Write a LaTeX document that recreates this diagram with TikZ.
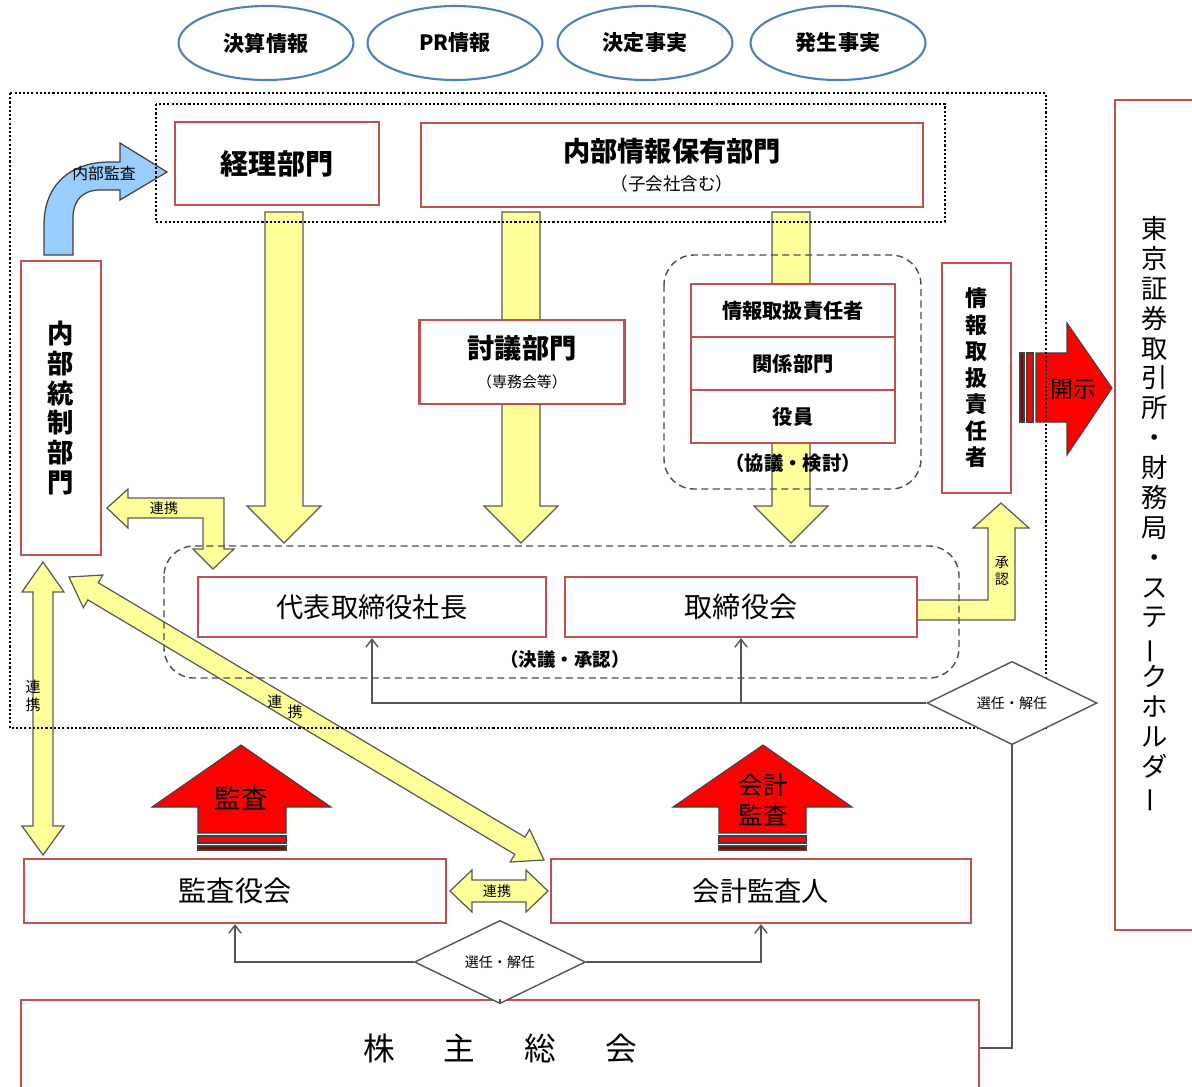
\documentclass[tikz,border=0pt]{standalone}
\usepackage{fontspec}
\setmainfont{Noto Sans CJK JP}
\usepackage{graphicx}
\usetikzlibrary{shapes.geometric,arrows.meta}
\definecolor{boxred}{RGB}{192,80,77}
\definecolor{ellblue}{RGB}{79,129,189}
\definecolor{fatfill}{RGB}{255,255,153}
\definecolor{fatline}{RGB}{90,90,90}
\definecolor{bluefill}{RGB}{153,204,255}
\definecolor{linegray}{RGB}{85,85,85}
\tikzset{
  infoell/.style={ellipse, draw=ellblue, line width=1.2pt, minimum width=3.5cm,
    minimum height=1.48cm, inner sep=0pt, font=\fontsize{12}{14}\selectfont\bfseries},
  unitbox/.style={draw=boxred, line width=1.3pt, fill=white, inner sep=0pt, align=center},
  choicediamond/.style={diamond, draw=linegray, line width=0.8pt, fill=white, inner sep=0pt,
    font=\fontsize{8}{9}\selectfont},
  fatyellow/.style={fill=fatfill, draw=fatline, line width=0.7pt},
  fatred/.style={fill=red, draw=black!75, line width=0.6pt},
  conn/.style={draw=linegray, line width=0.8pt, -{Straight Barb[length=4.5pt,width=7pt]}},
  plainline/.style={draw=linegray, line width=0.8pt},
  dotframe/.style={draw=black, line width=1.2pt, dash pattern=on 1.2pt off 1.2pt},
  dashframe/.style={draw=black!70, line width=0.8pt, dash pattern=on 4pt off 2.5pt, rounded corners=0.6cm},
  tag/.style={inner sep=0pt, font=\fontsize{8}{10}\selectfont, align=center}
}
\begin{document}
\begin{tikzpicture}[x=0.02cm,y=-0.02cm]
\useasboundingbox (0,0) rectangle (1192,1086);

% the four kinds of information
\node[infoell] (kessan) at (266,43) {決算情報};
\node[infoell] (prinfo) at (455,43) {PR情報};
\node[infoell] (kettei) at (645,43) {決定事実};
\node[infoell] (hassei) at (838,43) {発生事実};

% fat arrows first, frames and boxes go on top
\foreach \x in {284,521,791}
  \draw[fatyellow] (\x-19,212) -- (\x+19,212) -- (\x+19,506) -- (\x+37,506)
    -- (\x,543) -- (\x-37,506) -- (\x-19,506) -- cycle;
\draw[fatyellow] (107,508) -- (128,489) -- (128,498) -- (224,498) -- (224,549) -- (234,549)
  -- (213,569) -- (193,549) -- (203,549) -- (203,518) -- (128,518) -- (128,528) -- cycle;
\draw[fatyellow] (914,600) -- (988,600) -- (988,528) -- (973,528) -- (1001,503) -- (1029,528)
  -- (1015,528) -- (1015,620) -- (914,620) -- cycle;
\draw[fatyellow] (43,562) -- (64,592) -- (53,592) -- (53,826) -- (64,826) -- (43,855)
  -- (22,826) -- (33,826) -- (33,592) -- (22,592) -- cycle;
\draw[fatyellow] (69,577) -- (83.3,607.7) -- (87.9,599.9) -- (514.8,854.3) -- (510.2,862.0)
  -- (544,860) -- (529.6,829.4) -- (525.0,837.1) -- (98.2,582.7) -- (102.8,575.0) -- cycle;
\draw[fatyellow] (450,891) -- (472,870) -- (472,880) -- (526,880) -- (526,870) -- (548,891)
  -- (526,912) -- (526,902) -- (472,902) -- (472,912) -- cycle;
\draw[fill=bluefill, draw=black!75, line width=0.7pt] (44,255) -- (44,225)
  .. controls (44,185) and (70,162) .. (110,162) -- (120,162) -- (120,143) -- (167,172)
  -- (120,200) -- (120,190) -- (100,190) .. controls (83,190) and (73,200) .. (73,218)
  -- (73,255) -- cycle;

% red arrows
\draw[fatred] (198,833) -- (198,807) -- (152,807) -- (241,745) -- (331,807) -- (286,807)
  -- (286,833) -- cycle;
\draw[fatred] (198,836) rectangle (286,843);
\draw[fatred, fill=red!55!black] (198,846) rectangle (286,850);
\draw[fatred] (719,833) -- (719,807) -- (673,807) -- (763,745) -- (852,807) -- (806,807)
  -- (806,833) -- cycle;
\draw[fatred] (719,836) rectangle (806,843);
\draw[fatred, fill=red!55!black] (719,846) rectangle (806,850);
\draw[fatred] (1036,353) -- (1067,353) -- (1067,323) -- (1112,388) -- (1067,455)
  -- (1067,422) -- (1036,422) -- cycle;
\draw[fatred, fill=red!55!black] (1020,353) rectangle (1024,422);
\draw[fatred] (1027,353) rectangle (1033,422);

% frames
\draw[dotframe] (10,93) rectangle (1046,728);
\draw[dotframe] (156,104) rectangle (945,222);
\draw[dashframe] (664,255) rectangle (921,489);
\draw[dashframe] (164,546) rectangle (959,678);

% departments
\node[unitbox, minimum width=4.08cm, minimum height=1.66cm, font=\fontsize{16}{18}\selectfont\bfseries]
  (keiri) at (277,163.5) {経理部門};
\node[unitbox, minimum width=10.04cm, minimum height=1.68cm, font=\fontsize{15.5}{16.5}\selectfont\bfseries]
  (naibuinfo) at (672,165) {内部情報保有部門\\{\fontsize{10}{12}\selectfont\mdseries （子会社含む）}};
\node[unitbox, minimum width=4.1cm, minimum height=1.68cm, font=\fontsize{15.5}{17}\selectfont\bfseries]
  (tougi) at (522,362) {討議部門\\{\fontsize{8.5}{10}\selectfont\mdseries （専務会等）}};
\node[unitbox, minimum width=4.08cm, minimum height=1.06cm, font=\fontsize{11.5}{13}\selectfont\bfseries]
  (sekinin) at (793,310.5) {情報取扱責任者};
\node[unitbox, minimum width=4.08cm, minimum height=1.06cm, font=\fontsize{11.5}{13}\selectfont\bfseries]
  (kankei) at (793,363.5) {関係部門};
\node[unitbox, minimum width=4.08cm, minimum height=1.06cm, font=\fontsize{11.5}{13}\selectfont\bfseries]
  (yakuin) at (793,416.5) {役員};
\node[font=\fontsize{11}{13}\selectfont\bfseries, inner sep=0pt] (kyogi) at (793,463) {（協議・検討）};
\node[unitbox, minimum width=1.6cm, minimum height=5.88cm, font=\fontsize{15}{17}\selectfont\bfseries]
  (naibutosei) at (61,408) {内\\部\\統\\制\\部\\門};
\node[unitbox, minimum width=1.38cm, minimum height=4.6cm, font=\fontsize{12.5}{15.1}\selectfont\bfseries]
  (infoofficer) at (976.5,378) {情\\報\\取\\扱\\責\\任\\者};
\node[unitbox, minimum width=1.6cm, minimum height=16.6cm, font=\fontsize{15}{17}\selectfont]
  (tse) at (1155,515) {東\\京\\証\\券\\取\\引\\所\\・\\財\\務\\局\\・\\ス\\テ\\
  \rotatebox[origin=c]{90}{ー}\\ク\\ホ\\ル\\ダ\\\rotatebox[origin=c]{90}{ー}};

% board
\node[unitbox, minimum width=6.96cm, minimum height=1.2cm, font=\fontsize{15.5}{17}\selectfont]
  (daihyo) at (372,607) {代表取締役社長};
\node[unitbox, minimum width=7.04cm, minimum height=1.2cm, font=\fontsize{16}{18}\selectfont]
  (torikai) at (741,607) {取締役会};
\node[font=\fontsize{10.5}{12}\selectfont\bfseries, inner sep=0pt] (ketsugi) at (565,659) {（決議・承認）};

% auditors and shareholders
\node[unitbox, minimum width=8.44cm, minimum height=1.28cm, font=\fontsize{16}{18}\selectfont]
  (kansayaku) at (235,891) {監査役会};
\node[unitbox, minimum width=8.4cm, minimum height=1.28cm, font=\fontsize{15.5}{17}\selectfont]
  (kaikei) at (761,891) {会計監査人};
\node[unitbox, minimum width=19.16cm, minimum height=1.92cm, font=\fontsize{18}{20}\selectfont]
  (kabunushi) at (500,1048) {株\hspace{1.55em}主\hspace{1.55em}総\hspace{1.55em}会};

\node[choicediamond, minimum width=3.4cm, minimum height=0.96cm] (senninA) at (1012,703) {選任・解任};
\node[choicediamond, minimum width=3.42cm, minimum height=0.98cm] (senninB) at (500,962) {選任・解任};

\draw[conn] (senninA.west) -| (daihyo.south);
\draw[conn] (senninA.west) -| (torikai.south);
\draw[plainline] (senninA.south) |- (kabunushi.east);
\draw[conn] (senninB.west) -| (kansayaku.south);
\draw[conn] (senninB.east) -| (kaikei.south);
\draw[plainline] (senninB.south) -- (kabunushi.north);

% labels on the fat arrows
\node[tag, font=\fontsize{9}{10}\selectfont] at (104,173) {内部監査};
\node[tag] at (164,508) {連携};
\node[tag] at (1002,571) {承\\認};
\node[tag, font=\fontsize{8.5}{10}\selectfont] at (33,696) {連\\携};
\node[tag, font=\fontsize{8.5}{10}\selectfont] at (285,707) {連\hspace{3pt}\raisebox{-5.5pt}{携}};
\node[tag] at (497,891) {連携};
\node[tag, font=\fontsize{15}{17}\selectfont] at (241,798) {監査};
\node[tag, font=\fontsize{14}{17}\selectfont] at (763,800) {会計\\監査};
\node[tag, font=\fontsize{13}{15}\selectfont] at (1073,389) {開示};
\end{tikzpicture}
\end{document}
